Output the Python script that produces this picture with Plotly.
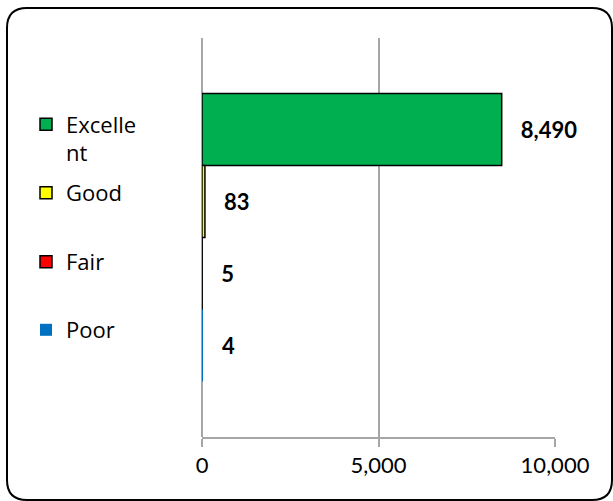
import plotly.graph_objects as go

# ---- data ----
categories = ["Excellent", "Good", "Fair", "Poor"]
legend_labels = ["Excelle<br>nt", "Good", "Fair", "Poor"]
values = [8490, 83, 5, 4]
x_ticks = [0, 5000, 10000]

# ---- styles ----
colors = ["#00B050", "#FFFF00", "#FF0000", "#0070C0"]
outline_widths = [1.5, 1.5, 1.5, 0]
legend_names = ["legend", "legend2", "legend3", "legend4"]
legend_centers_px = [139, 193, 262, 330]

W, H = 613, 501
ML, MR, MT, MB = 202, 58, 38, 64
GRID = "#A6A6A6"
PAD = "\u00a0\u00a0\u00a0"

fig = go.Figure()
for cat, lab, val, col, lw, lg in zip(categories, legend_labels, values, colors,
                                      outline_widths, legend_names):
    fig.add_trace(go.Bar(
        y=[cat], x=[val], orientation="h", name=lab, legend=lg,
        marker=dict(color=col, line=dict(color="#000000", width=lw)),
        text=[f"{v:,}" for v in [val]], texttemplate=PAD + "%{text}",
        textposition="outside", constraintext="none", cliponaxis=False,
        textfont=dict(family="Lato", size=22, color="#000000", weight="bold"),
        hoverinfo="skip",
    ))

layout_legends = {}
for lg, cy in zip(legend_names, legend_centers_px):
    layout_legends[lg] = dict(
        x=26 / W, xref="container", xanchor="left",
        y=1 - cy / H, yref="container", yanchor="middle",
        valign="top", bgcolor="rgba(0,0,0,0)",
        font=dict(family="Open Sans", size=22, color="#000000"),
    )

# rounded outer border (paper coordinates from pixel positions)
def px(xp):
    return (xp - ML) / (W - ML - MR)

def py(yp):
    return (H - MB - yp) / (H - MT - MB)

L, T, R, B, r = 7, 8, 612, 500, 20
path = (
    f"M{px(L + r)},{py(T)} L{px(R - r)},{py(T)} Q{px(R)},{py(T)} {px(R)},{py(T + r)} "
    f"L{px(R)},{py(B - r)} Q{px(R)},{py(B)} {px(R - r)},{py(B)} "
    f"L{px(L + r)},{py(B)} Q{px(L)},{py(B)} {px(L)},{py(B - r)} "
    f"L{px(L)},{py(T + r)} Q{px(L)},{py(T)} {px(L + r)},{py(T)} Z"
)

fig.update_layout(
    width=W, height=H,
    margin=dict(l=ML, r=MR, t=MT, b=MB, autoexpand=False),
    paper_bgcolor="white", plot_bgcolor="white",
    barmode="overlay", bargap=0.001,
    showlegend=True,
    xaxis=dict(
        range=[0, 10000], tickvals=x_ticks, tickformat=",",
        showgrid=True, gridcolor=GRID, gridwidth=1.5,
        zeroline=True, zerolinecolor=GRID, zerolinewidth=1.5,
        showline=True, linecolor=GRID, linewidth=1.5,
        ticks="outside", ticklen=8, tickcolor=GRID, tickwidth=1.5,
        tickfont=dict(family="Lato", size=22, color="#000000"),
        fixedrange=True,
    ),
    yaxis=dict(
        type="category", categoryorder="array",
        categoryarray=list(reversed(categories)),
        range=[-1.27, 4.27],
        showticklabels=False, showgrid=False, zeroline=False, showline=False,
        ticks="", fixedrange=True,
    ),
    shapes=[dict(type="path", xref="paper", yref="paper", path=path,
                 line=dict(color="#000000", width=2), fillcolor="rgba(0,0,0,0)",
                 layer="above")],
    **layout_legends,
)

fig.write_html("out.html")
